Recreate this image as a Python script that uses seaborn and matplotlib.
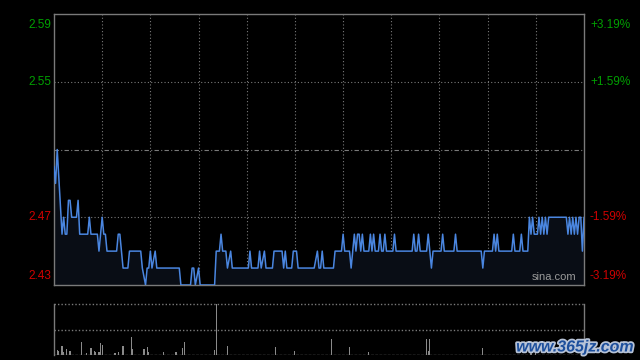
import matplotlib
matplotlib.use("Agg")
import matplotlib.pyplot as plt
import matplotlib.patheffects as pe
import seaborn as sns
import pandas as pd

# ---- data ----
minutes = [0, 1, 2, 5, 6, 7, 8, 9, 10, 11, 14, 15, 16, 21, 22, 23, 27, 28, 30, 31,
           32, 33, 39, 40, 41, 42, 43, 46, 47, 54, 55, 57, 58, 59, 60, 61, 63, 64, 78, 79,
           85, 86, 87, 88, 90, 91, 100, 101, 103, 104, 105, 107, 108, 110, 111, 121, 122, 123, 127, 128,
           129, 131, 132, 136, 137, 142, 143, 144, 145, 148, 149, 151, 152, 162, 164, 165, 166, 167, 168, 174,
           175, 179, 180, 181, 184, 185, 186, 187, 188, 189, 190, 191, 192, 193, 196, 197, 198, 199, 200, 202,
           203, 204, 205, 206, 207, 211, 212, 213, 223, 224, 225, 226, 227, 228, 232, 233, 234, 235, 236, 241,
           242, 243, 249, 250, 251, 266, 267, 268, 273, 274, 275, 276, 277, 285, 286, 287, 290, 291, 292, 295,
           296, 297, 298, 299, 301, 302, 303, 304, 305, 306, 307, 308, 319, 320, 321, 322, 323, 324, 325, 326,
           327, 328, 329, 330]
prices = [2.50, 2.49, 2.51, 2.46, 2.47, 2.46, 2.46, 2.48, 2.48, 2.47, 2.47, 2.48, 2.46, 2.46, 2.47, 2.46, 2.46, 2.45, 2.47, 2.46,
          2.46, 2.45, 2.45, 2.46, 2.46, 2.45, 2.44, 2.44, 2.45, 2.45, 2.44, 2.43, 2.44, 2.44, 2.45, 2.44, 2.45, 2.44, 2.44, 2.43,
          2.43, 2.44, 2.44, 2.43, 2.44, 2.43, 2.43, 2.45, 2.45, 2.46, 2.45, 2.45, 2.44, 2.45, 2.44, 2.44, 2.45, 2.44, 2.44, 2.45,
          2.44, 2.45, 2.44, 2.44, 2.45, 2.45, 2.44, 2.45, 2.44, 2.44, 2.45, 2.45, 2.44, 2.44, 2.45, 2.44, 2.44, 2.45, 2.44, 2.44,
          2.45, 2.45, 2.46, 2.45, 2.45, 2.44, 2.45, 2.46, 2.45, 2.46, 2.46, 2.45, 2.46, 2.45, 2.45, 2.46, 2.45, 2.46, 2.45, 2.45,
          2.46, 2.45, 2.45, 2.46, 2.45, 2.45, 2.46, 2.45, 2.45, 2.46, 2.45, 2.45, 2.46, 2.45, 2.45, 2.46, 2.45, 2.44, 2.45, 2.45,
          2.46, 2.45, 2.45, 2.46, 2.45, 2.45, 2.44, 2.45, 2.45, 2.46, 2.45, 2.46, 2.45, 2.45, 2.46, 2.45, 2.45, 2.46, 2.45, 2.45,
          2.47, 2.46, 2.47, 2.46, 2.46, 2.47, 2.46, 2.47, 2.46, 2.47, 2.46, 2.47, 2.47, 2.46, 2.47, 2.46, 2.47, 2.46, 2.47, 2.46,
          2.47, 2.47, 2.45, 2.47]

vol_minutes = [0, 2, 3, 5, 6, 8, 10, 17, 20, 23, 25, 26, 28, 29, 30, 38, 40, 43, 48, 49,
               56, 58, 59, 68, 76, 80, 81, 100, 101, 108, 138, 150, 173, 184, 196, 232, 233, 234, 267, 297, 300]
vol_values = [5, 10, 8, 18, 5, 11, 8, 26, 4, 14, 7, 5, 6, 24, 20, 3, 6, 18, 36, 12,
              12, 16, 6, 6, 6, 14, 26, 10, 100, 18, 16, 8, 32, 16, 6, 32, 8, 31, 14, 10, 11]

prev_close = 2.51
left_ticks = [2.59, 2.55, 2.47, 2.43]
right_labels = ["+3.19%", "+1.59%", "-1.59%", "-3.19%"]
tick_colors = ["#00a000", "#00a000", "#d00000", "#d00000"]

sns.set_style("dark")
plt.rcParams["font.family"] = ["Liberation Sans", "DejaVu Sans"]

df = pd.DataFrame({"minute": minutes, "price": prices})
dv = pd.DataFrame({"minute": vol_minutes, "volume": vol_values})

fig = plt.figure(figsize=(6.4, 3.6), dpi=100, facecolor="black")
ax = fig.add_axes([54 / 640, 1 - 285 / 360, 530 / 640, 271 / 360])
axv = fig.add_axes([54 / 640, 1 - 355 / 360, 530 / 640, 51 / 360])

grid_c = "#7a7a7a"
for a in (ax, axv):
    a.set_facecolor("black")
    for s in a.spines.values():
        s.set_color(grid_c)
        s.set_linewidth(1.0)
    a.set_xticks([])
    a.set_yticks([])
    a.set_xlabel("")
    a.set_ylabel("")

# main price panel
ax.set_xlim(0, 330)
ax.set_ylim(2.43, 2.59)
for k in range(1, 11):
    ax.axvline(k * 30, color=grid_c, lw=0.8, ls=(0, (1, 2)), zorder=1)
for yv in (2.55, 2.47):
    ax.axhline(yv, color=grid_c, lw=0.8, ls=(0, (1, 2)), zorder=1)
ax.axhline(prev_close, color=grid_c, lw=0.8, ls=(0, (4, 2, 1, 2)), zorder=1)

ax.fill_between(df["minute"], df["price"], 2.43, color="#090d15", zorder=2, lw=0)
sns.lineplot(data=df, x="minute", y="price", ax=ax, color="#4a86e0", lw=1.1,
             estimator=None, sort=False, zorder=3)
ax.set_xlabel("")
ax.set_ylabel("")
ax.set_xticks([])
ax.set_yticks([])

trans_l = matplotlib.transforms.blended_transform_factory(fig.transFigure, ax.transData)
vas = ["top", "center", "center", "bottom"]
offs = [-0.003, 0, 0, 0.002]
for yv, lab, c, va, o in zip(left_ticks, right_labels, tick_colors, vas, offs):
    ax.text(51 / 640, yv + o, f"{yv:.2f}", color=c, fontsize=8.5, ha="right", va=va,
            transform=trans_l)
    ax.text(590 / 640, yv + o, lab, color=c, fontsize=8.5, ha="left", va=va,
            transform=trans_l)

ax.text(0.985, 0.012, "sina.com", color="#9a9a9a", fontsize=8, ha="right", va="bottom",
        transform=ax.transAxes, zorder=5)

# volume panel
axv.set_xlim(0, 330)
axv.set_ylim(0, 100)
axv.bar(dv["minute"], dv["volume"], width=0.7, color="#8a8a8a", lw=0)
axv.spines["top"].set_visible(False)
axv.spines["bottom"].set_visible(False)
axv.axhline(100, color=grid_c, lw=1.0, ls=(0, (1, 1.5)), clip_on=False)
axv.axhline(50, color=grid_c, lw=1.0, ls=(0, (1, 1.5)))
axv.axhline(0.5, color=grid_c, lw=1.0, ls=(0, (2, 1)))
axv.set_xticks([])
axv.set_yticks([])

fig.text(634 / 640, 1 - 347 / 360, "www.365jz.com", color="#1d4f9c", fontsize=11.5,
         fontweight="bold", fontstyle="italic", ha="right", va="center",
         path_effects=[pe.withStroke(linewidth=2.5, foreground="#b8c4d8")])

fig.savefig("out.png", dpi=100, facecolor="black")
